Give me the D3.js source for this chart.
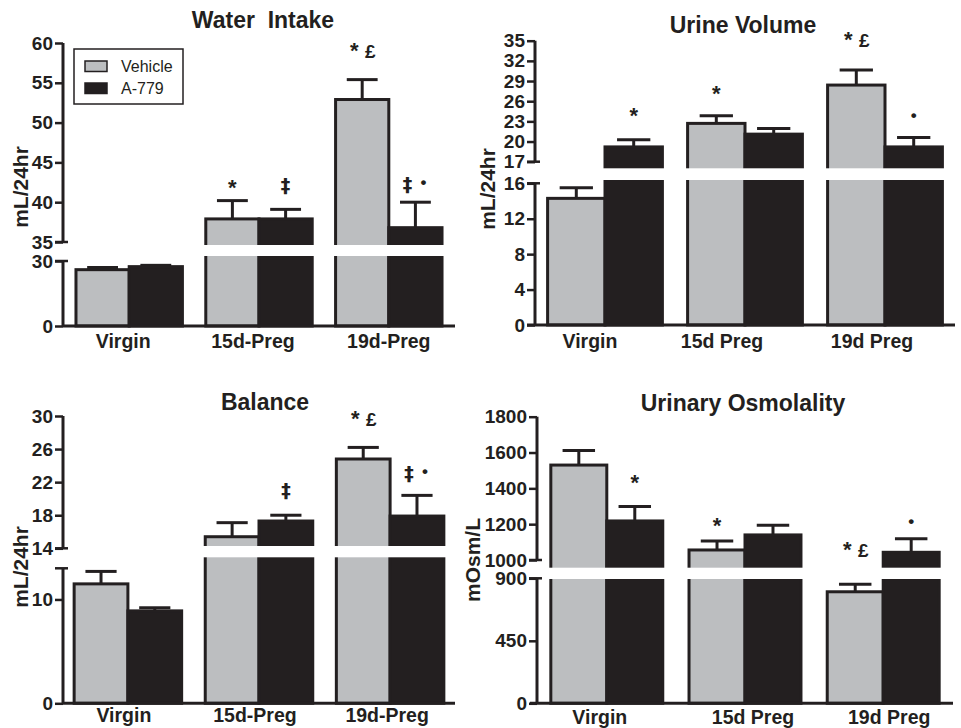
<!DOCTYPE html>
<html lang="en">
<head>
    <script src="https://cdn.jsdelivr.net/npm/d3@7/dist/d3.min.js"></script>
    <style>
        body { margin: 0; background: #fff; }
        text { font-family: "Liberation Sans", Arial, Helvetica, sans-serif; font-weight: bold; fill: #231f20; white-space: pre; }
    </style>
</head>
<body>
<svg id="fig" width="961" height="728"></svg>
<script>
// ---- data ----
const groupsDash = ["Virgin", "15d-Preg", "19d-Preg"];
const groupsSpace = ["Virgin", "15d Preg", "19d Preg"];
const seriesNames = ["Vehicle", "A-779"];

const waterVehicle = [26.0, 37.9, 52.9];
const waterVehicleSem = [1.0, 2.3, 2.5];
const waterA779 = [27.4, 37.9, 36.8];
const waterA779Sem = [0.6, 1.2, 3.2];
const waterMarks = [["", ""], ["*", "‡"], ["* £", "‡ •"]];
const waterMarkLevel = [[0, 0], [40.9, 41.3], [58.1, 41.4]];

const urineVehicle = [14.3, 22.7, 28.4];
const urineVehicleSem = [1.2, 1.15, 2.25];
const urineA779 = [19.2, 21.1, 19.2];
const urineA779Sem = [1.05, 0.85, 1.4];
const urineMarks = [["", "*"], ["*", ""], ["* £", "•"]];
const urineMarkLevel = [[0, 22.8], [26.1, 0], [34.0, 22.6]];

const balanceVehicle = [11.5, 15.4, 24.8];
const balanceVehicleSem = [1.2, 1.7, 1.4];
const balanceA779 = [8.9, 17.3, 17.9];
const balanceA779Sem = [0.3, 0.7, 2.5];
const balanceMarks = [["", ""], ["", "‡"], ["* £", "‡ •"]];
const balanceMarkLevel = [[0, 0], [0, 20.2], [28.8, 22.3]];

const osmVehicle = [1530, 1056, 803];
const osmVehicleSem = [81, 50, 55];
const osmA779 = [1218, 1140, 1043];
const osmA779Sem = [80, 54, 76];
const osmMarks = [["", "*"], ["*", ""], ["* £", "•"]];
const osmMarkLevel = [[0, 1391], [1151, 0], [1017, 1170]];

const waterTicksLow = [0, 30], waterTicksHigh = [35, 40, 45, 50, 55, 60];
const urineTicksLow = [0, 4, 8, 12, 16], urineTicksHigh = [17, 20, 23, 26, 29, 32, 35];
const balanceTicksLow = [0, 10], balanceTicksHigh = [14, 18, 22, 26, 30];
const osmTicksLow = [0, 450, 900], osmTicksHigh = [1000, 1200, 1400, 1600, 1800];

// ---- layout ----
const ink = "#231f20", grey = "#bcbec0";
const svg = d3.select("#fig");

const panels = [
    {
        title: "Water  Intake", titleX: 263, titleY: 28,
        yLabel: "mL/24hr", yLabelX: 28, yLabelY: 187, yLabelSize: 21,
        groups: groupsDash, veh: waterVehicle, vehSem: waterVehicleSem, drug: waterA779, drugSem: waterA779Sem,
        marks: waterMarks, markLevel: waterMarkLevel,
        axisX: 63, xAxisStart: 63, xRight: 455, padInner: 0.18, padOuter: 0.1,
        lowDomain: [0, 30], lowRange: [326, 261], highDomain: [35, 60], highRange: [242, 43],
        ticksLow: waterTicksLow, ticksHigh: waterTicksHigh, band: [245, 256],
        labelY: 348, labelShift: [-6, -6, 0], legend: true
    },
    {
        title: "Urine Volume", titleX: 743, titleY: 33,
        yLabel: "mL/24hr", yLabelX: 495, yLabelY: 189, yLabelSize: 21,
        groups: groupsSpace, veh: urineVehicle, vehSem: urineVehicleSem, drug: urineA779, drugSem: urineA779Sem,
        marks: urineMarks, markLevel: urineMarkLevel,
        axisX: 535, xAxisStart: 527, xRight: 955, padInner: 0.18, padOuter: 0.09,
        lowDomain: [0, 16], lowRange: [325, 183.3], highDomain: [17, 35], highRange: [161.7, 40.7],
        ticksLow: urineTicksLow, ticksHigh: urineTicksHigh, band: [168.3, 180],
        labelY: 348, labelShift: [-15, -23, -13]
    },
    {
        title: "Balance", titleX: 265, titleY: 410,
        yLabel: "mL/24hr", yLabelX: 28, yLabelY: 567, yLabelSize: 21,
        groups: groupsDash, veh: balanceVehicle, vehSem: balanceVehicleSem, drug: balanceA779, drugSem: balanceA779Sem,
        marks: balanceMarks, markLevel: balanceMarkLevel,
        axisX: 63, xAxisStart: 62, xRight: 455, padInner: 0.18, padOuter: 0.085,
        lowDomain: [0, 13], lowRange: [703.3, 568.3], highDomain: [14, 30], highRange: [548.3, 416],
        ticksLow: balanceTicksLow, ticksHigh: balanceTicksHigh, band: [546, 557.3],
        labelY: 722, labelShift: [-4, -4, -3]
    },
    {
        title: "Urinary Osmolality", titleX: 743, titleY: 411,
        yLabel: "mOsm/L", yLabelX: 480, yLabelY: 560, yLabelSize: 21,
        groups: groupsSpace, veh: osmVehicle, vehSem: osmVehicleSem, drug: osmA779, drugSem: osmA779Sem,
        marks: osmMarks, markLevel: osmMarkLevel,
        axisX: 537, xAxisStart: 530, xRight: 953, padInner: 0.19, padOuter: 0.1,
        lowDomain: [0, 900], lowRange: [703.3, 578.3], highDomain: [1000, 1800], highRange: [560, 416.7],
        ticksLow: osmTicksLow, ticksHigh: osmTicksHigh, band: [567.7, 579],
        labelY: 724, labelShift: [-7, 8, 6]
    }
];

function drawPanel(p) {
    const g = svg.append("g");
    const low = d3.scaleLinear().domain(p.lowDomain).range(p.lowRange);
    const high = d3.scaleLinear().domain(p.highDomain).range(p.highRange);
    const y = v => (v >= p.highDomain[0] ? high(v) : low(v));
    const yBottom = low(0);

    const x0 = d3.scaleBand().domain(p.groups).range([p.axisX, p.xRight])
        .paddingInner(p.padInner).paddingOuter(p.padOuter);
    const x1 = d3.scaleBand().domain(seriesNames).range([0, x0.bandwidth()]);

    const bars = [];
    p.groups.forEach((grp, i) => {
        bars.push({ grp, s: "Vehicle", v: p.veh[i], e: p.vehSem[i], mark: p.marks[i][0], lvl: p.markLevel[i][0] });
        bars.push({ grp, s: "A-779", v: p.drug[i], e: p.drugSem[i], mark: p.marks[i][1], lvl: p.markLevel[i][1] });
    });
    const cx = d => x0(d.grp) + x1(d.s) + x1.bandwidth() / 2;

    // error bars (upward only)
    const capW = x1.bandwidth() * 0.58;
    g.selectAll("line.err").data(bars).join("line")
        .attr("x1", cx).attr("x2", cx)
        .attr("y1", d => y(d.v)).attr("y2", d => y(d.v + d.e))
        .attr("stroke", ink).attr("stroke-width", 3);
    g.selectAll("line.cap").data(bars).join("line")
        .attr("x1", d => cx(d) - capW / 2).attr("x2", d => cx(d) + capW / 2)
        .attr("y1", d => y(d.v + d.e)).attr("y2", d => y(d.v + d.e))
        .attr("stroke", ink).attr("stroke-width", 3);

    g.selectAll("rect.bar").data(bars).join("rect")
        .attr("x", d => x0(d.grp) + x1(d.s))
        .attr("width", x1.bandwidth())
        .attr("y", d => y(d.v))
        .attr("height", d => yBottom - y(d.v))
        .attr("fill", d => (d.s === "Vehicle" ? grey : ink))
        .attr("stroke", ink).attr("stroke-width", 3);

    // the white break across the bars
    g.append("rect")
        .attr("x", p.axisX + 3).attr("width", p.xRight - p.axisX)
        .attr("y", p.band[0]).attr("height", p.band[1] - p.band[0])
        .attr("fill", "#fff");

    // significance marks
    bars.filter(d => d.mark).forEach(d => {
        const toks = d.mark.split(" ");
        toks.forEach((t, k) => {
            const tx = cx(d) + (k - (toks.length - 1) / 2) * 16;
            const ty = y(d.lvl) + (t === "•" ? -3 : 0);
            const size = t === "*" ? 22 : (t === "•" ? 17 : 19);
            g.append("text").attr("x", tx).attr("y", ty)
                .attr("text-anchor", "middle")
                .style("font-size", size + "px")
                .style("font-family", t === "‡" ? '"DejaVu Sans", sans-serif' : null)
                .text(t);
        });
    });

    // y axis in two pieces
    [[low, p.ticksLow, p.lowRange], [high, p.ticksHigh, p.highRange]].forEach(([sc, ticks, rng]) => {
        const ax = g.append("g").attr("transform", `translate(${p.axisX},0)`)
            .call(d3.axisLeft(sc).tickValues(ticks).tickFormat(d3.format("d"))
                .tickSize(8).tickPadding(2).tickSizeOuter(0));
        ax.select(".domain").remove();
        ax.selectAll(".tick line").attr("stroke", ink).attr("stroke-width", 2.5);
        ax.selectAll(".tick text").attr("fill", ink).style("font-size", "19px")
            .style("font-family", '"Liberation Sans", Arial, sans-serif').style("font-weight", "bold");
        g.append("line").attr("x1", p.axisX).attr("x2", p.axisX)
            .attr("y1", rng[0]).attr("y2", rng[1])
            .attr("stroke", ink).attr("stroke-width", 3);
    });
    // hooks at the break ends
    [p.highRange[0], p.lowRange[1]].forEach(yy => {
        g.append("line").attr("x1", p.axisX - 8).attr("x2", p.axisX + 5)
            .attr("y1", yy).attr("y2", yy)
            .attr("stroke", ink).attr("stroke-width", 2.5);
    });

    // x axis
    g.append("line").attr("x1", p.xAxisStart).attr("x2", p.xRight)
        .attr("y1", yBottom).attr("y2", yBottom)
        .attr("stroke", ink).attr("stroke-width", 3);
    g.selectAll("text.xlab").data(p.groups).join("text")
        .attr("x", (d, i) => x0(d) + x0.bandwidth() / 2 + p.labelShift[i])
        .attr("y", p.labelY)
        .attr("text-anchor", "middle")
        .style("font-size", "19.5px")
        .text(d => d);

    g.append("text").attr("x", p.titleX).attr("y", p.titleY)
        .attr("text-anchor", "middle").style("font-size", "23px").text(p.title);

    g.append("text")
        .attr("transform", `translate(${p.yLabelX},${p.yLabelY}) rotate(-90)`)
        .attr("text-anchor", "middle").style("font-size", p.yLabelSize + "px")
        .text(p.yLabel);

    if (p.legend) {
        const lg = g.append("g");
        lg.append("rect").attr("x", 74).attr("y", 49).attr("width", 109).attr("height", 55)
            .attr("fill", "#fff").attr("stroke", ink).attr("stroke-width", 1.5);
        seriesNames.forEach((s, i) => {
            lg.append("rect").attr("x", 85).attr("y", 61 + i * 22).attr("width", 22).attr("height", 10.5)
                .attr("fill", i === 0 ? grey : ink).attr("stroke", ink).attr("stroke-width", 1.5);
            lg.append("text").attr("x", 121).attr("y", 72 + i * 22)
                .style("font-size", "16px").style("font-weight", "normal").text(s);
        });
    }
}

panels.forEach(drawPanel);
</script>
</body>
</html>
